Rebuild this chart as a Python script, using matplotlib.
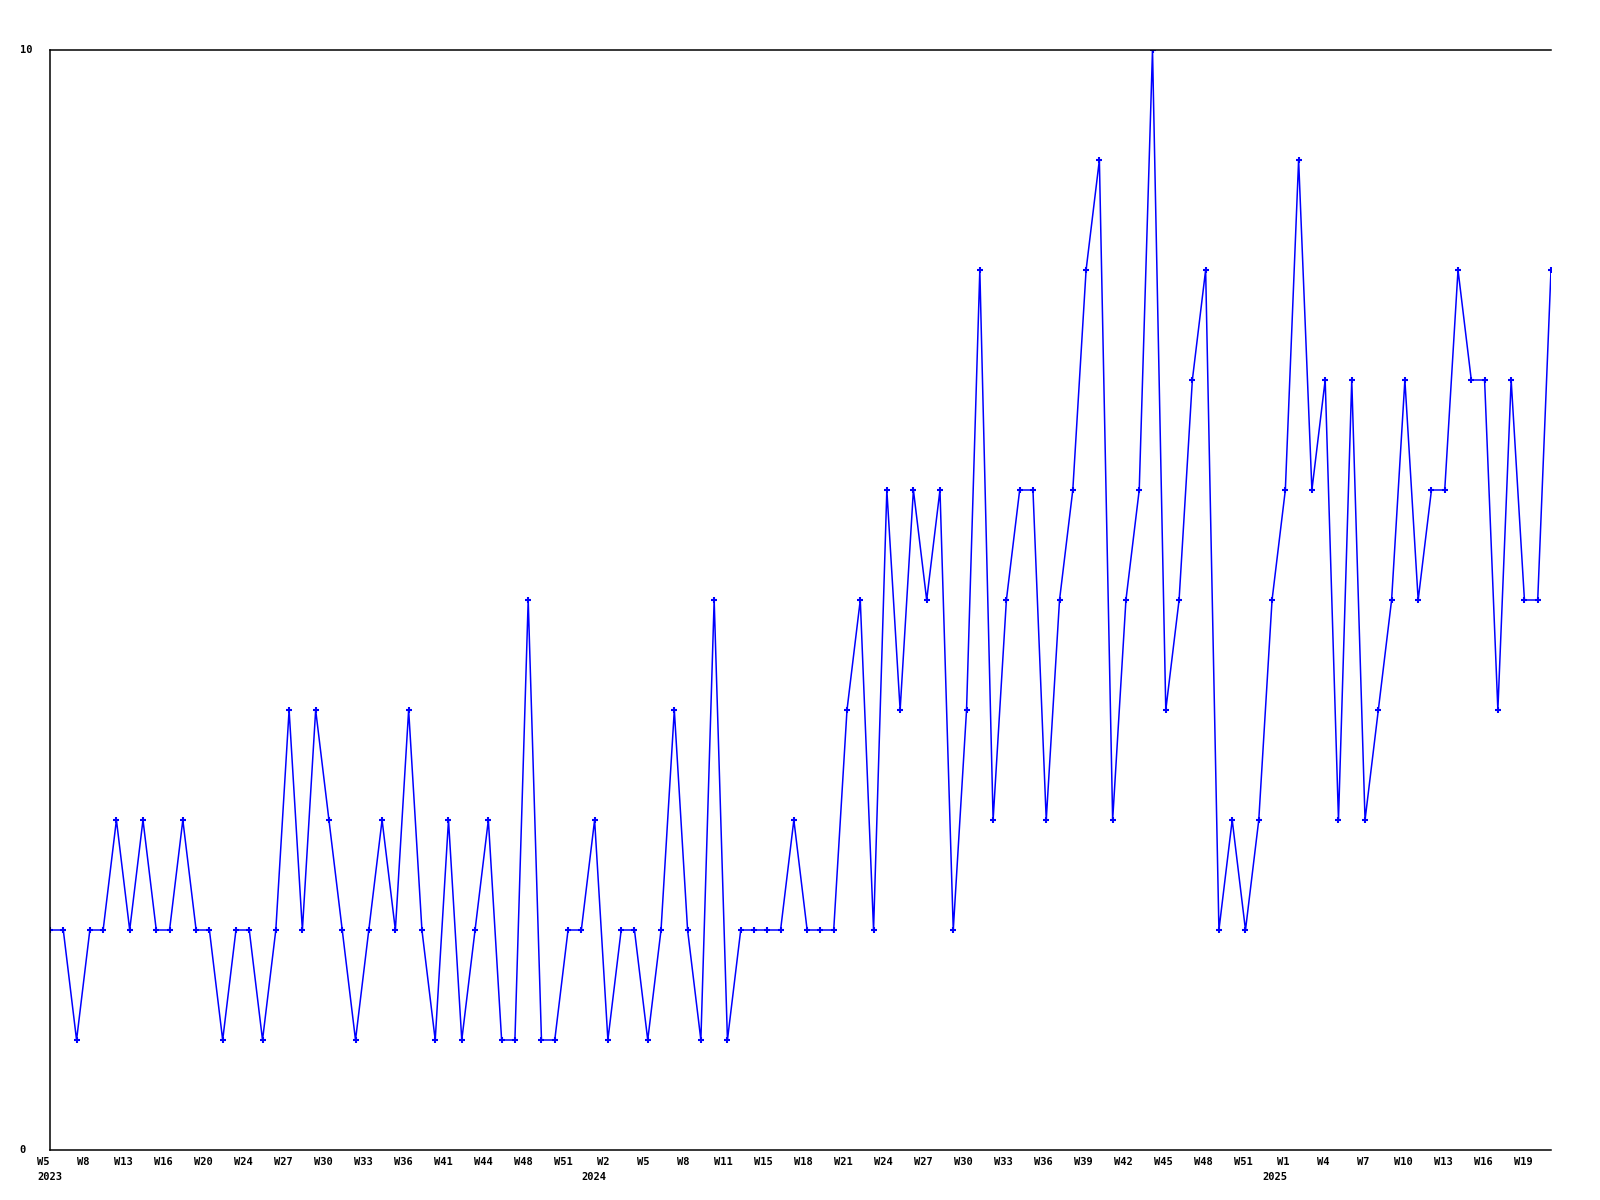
import matplotlib
matplotlib.use("Agg")
import matplotlib.pyplot as plt
import matplotlib.transforms as mtransforms

# weekly values, W5 2023 .. W21 2025 (categorical, 114 points)
values = [2, 2, 1, 2, 2, 3, 2, 3, 2, 2, 3, 2, 2, 1, 2, 2, 1, 2, 4, 2,
          4, 3, 2, 1, 2, 3, 2, 4, 2, 1, 3, 1, 2, 3, 1, 1, 5, 1, 1, 2,
          2, 3, 1, 2, 2, 1, 2, 4, 2, 1, 5, 1, 2, 2, 2, 2, 3, 2, 2, 2,
          4, 5, 2, 6, 4, 6, 5, 6, 2, 4, 8, 3, 5, 6, 6, 3, 5, 6, 8, 9,
          3, 5, 6, 10, 4, 5, 7, 8, 2, 3, 2, 3, 5, 6, 9, 6, 7, 3, 7, 3,
          4, 5, 7, 5, 6, 6, 8, 7, 7, 4, 7, 5, 5, 8]

# tick labels, every 3rd point
week_labels = ["W5", "W8", "W13", "W16", "W20", "W24", "W27", "W30", "W33", "W36",
               "W41", "W44", "W48", "W51", "W2", "W5", "W8", "W11", "W15", "W18",
               "W21", "W24", "W27", "W30", "W33", "W36", "W39", "W42", "W45", "W48",
               "W51", "W1", "W4", "W7", "W10", "W13", "W16", "W19"]
year_labels = ["2023", "2024", "2025"]
year_pos = [0, 42, 93]

x = list(range(len(values)))

fig = plt.figure(figsize=(16, 12), dpi=100)
ax = fig.add_axes([50 / 1600, 50 / 1200, 1501 / 1600, 1100 / 1200])

ax.plot(x, values, color="#0000ff", linewidth=1.1, marker="+",
        markersize=4.5, markeredgewidth=1.5)

ax.set_xlim(0, len(values) - 1)
ax.set_ylim(0, 10)
ax.spines["right"].set_visible(False)
for s in ["left", "bottom", "top"]:
    ax.spines[s].set_linewidth(1.1)

font = dict(family="DejaVu Sans Mono", fontweight="bold", fontsize=7.5)

ax.set_yticks([])
ytrans = mtransforms.blended_transform_factory(mtransforms.IdentityTransform(), ax.transData)
ax.text(20, 10, "10", transform=ytrans, ha="left", va="center", **font)
ax.text(19, 0, "0", transform=ytrans, ha="left", va="center", **font)

ax.set_xticks([])
base = mtransforms.blended_transform_factory(ax.transData, ax.transAxes)
n = len(week_labels) - 1
for i, lab in enumerate(week_labels):
    dx = (-7 + 6 * i / n) / 100
    t = base + mtransforms.ScaledTranslation(dx, 0, fig.dpi_scale_trans)
    ax.text(i * 3, -12 / 1100, lab, transform=t, ha="center", va="center",
            clip_on=False, **font)
for p, lab, dx in zip(year_pos, year_labels, [0, -14, -10]):
    t = base + mtransforms.ScaledTranslation(dx / 100, 0, fig.dpi_scale_trans)
    ax.text(p, -27 / 1100, lab, transform=t, ha="center", va="center",
            clip_on=False, **font)

fig.savefig("out.png", dpi=100)
